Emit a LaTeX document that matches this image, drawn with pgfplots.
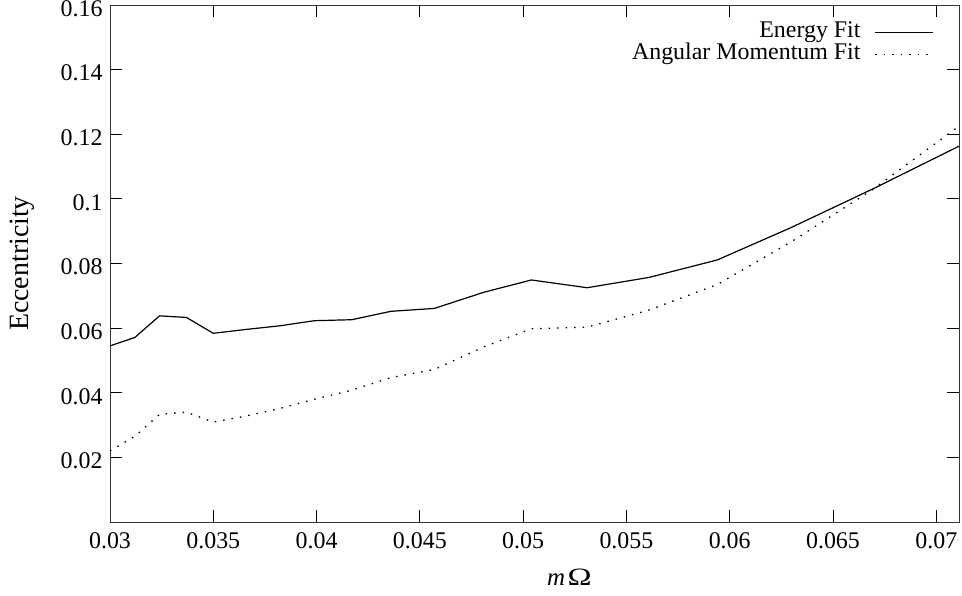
\documentclass[border=0pt]{standalone}
\usepackage{fontspec}
\setmainfont{Liberation Serif}
\usepackage{graphicx}
\usepackage{pgfplots}
\pgfplotsset{compat=1.18}
\begin{document}
\begin{tikzpicture}[font=\fontsize{24}{28}\selectfont]
\begin{axis}[
  name=ax,
  scale only axis,
  width=849bp, height=517bp,
  xmin=0.03, xmax=0.0711,
  ymin=0, ymax=0.16,
  xtick={0.03,0.035,0.04,0.045,0.05,0.055,0.06,0.065,0.07},
  ytick={0.02,0.04,0.06,0.08,0.1,0.12,0.14,0.16},
  scaled ticks=false,
  /pgf/number format/assume math mode=true,
  xticklabel style={/pgf/number format/fixed,/pgf/number format/precision=3,yshift=-7bp},
  yticklabel style={/pgf/number format/fixed,/pgf/number format/precision=3,xshift=-4bp,yshift=-3.5bp},
  tick align=inside,
  major tick length=12bp,
  minor tick num=0,
  axis line style={line width=0.9bp, black!80},
  every tick/.style={line width=0.9bp, black},
  xlabel={\fontsize{25}{28}\selectfont\textit{m}\hspace{0.1em}\scalebox{1.3}[1]{Ω}},
  ylabel={\fontsize{28}{32}\selectfont Eccentricity},
  every axis x label/.style={at={(rel axis cs:0.5,0)}, anchor=base, xshift=35bp, yshift=-63bp},
  every axis y label/.style={at={(rel axis cs:0,0.5)}, anchor=center, xshift=-88bp, rotate=90},
  legend plot pos=right,
  legend cell align=right,
  legend image code/.code={\draw[#1] (0bp,0bp) -- (58bp,0bp);},
  legend style={draw=none, fill=none, at={(rel axis cs:1,1)}, anchor=north east,
    xshift=-22bp, yshift=-14bp, column sep=14bp, row sep=0bp,
    nodes={inner sep=0pt, text height=16bp, text depth=6bp}},
]
\addplot[black, line width=1.2bp] coordinates {
(0.0300,0.0545) (0.0312,0.0571) (0.0324,0.0638) (0.0337,0.0633) (0.0350,0.0584)
(0.0366,0.0596) (0.0382,0.0607) (0.0399,0.0623) (0.0417,0.0626) (0.0436,0.0652)
(0.0457,0.0661) (0.0481,0.0711) (0.0504,0.0749) (0.0531,0.0725) (0.0561,0.0757)
(0.0594,0.0811) (0.0630,0.0912) (0.0669,0.1030) (0.0711,0.1163)
};
\addlegendentry{Energy Fit}
\addplot[black, line width=1.3bp, dash pattern=on 1.5bp off 7bp] coordinates {
(0.0300,0.0220) (0.0312,0.0265) (0.0324,0.0333) (0.0337,0.0340) (0.0350,0.0309)
(0.0366,0.0328) (0.0382,0.0351) (0.0399,0.0380) (0.0417,0.0408) (0.0436,0.0447)
(0.0457,0.0472) (0.0481,0.0542) (0.0504,0.0598) (0.0531,0.0603) (0.0561,0.0656)
(0.0594,0.0735) (0.0630,0.0868) (0.0669,0.1028) (0.0711,0.1225)
};
\addlegendentry{Angular Momentum Fit}
\end{axis}
\pgfresetboundingbox
\path[use as bounding box] ([xshift=-110bp,yshift=-74bp]ax.south west) rectangle ([xshift=3bp,yshift=5bp]ax.north east);
\end{tikzpicture}
\end{document}
